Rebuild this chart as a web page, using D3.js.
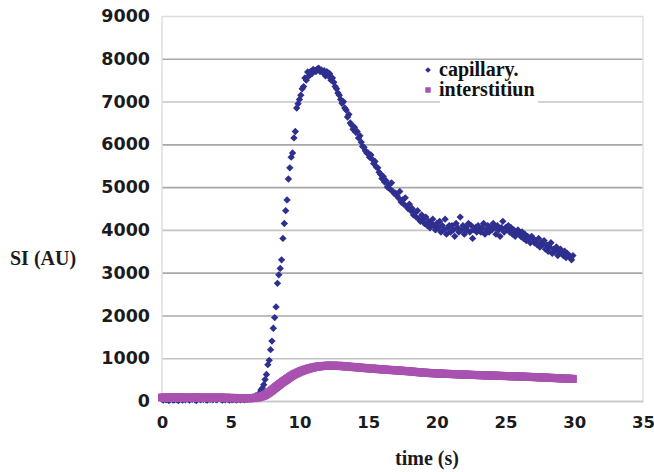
<!DOCTYPE html>
<html>
<head>
<meta charset="utf-8">
<script src="https://cdn.jsdelivr.net/npm/d3@7"></script>
<style>
  body { margin: 0; background: #fff; }
  svg { display: block; }
</style>
</head>
<body>
<div id="chart"></div>
<script>
// time sampling (s) of both series
var timeStep = 0.1;

// capillary SI (AU), one value every 0.1 s from t = 0
var capillary = [
  40, 20, 60, 30, 50, 10, 40, 70, 20, 30,
  50, 30, 10, 60, 40, 20, 50, 30, 60, 40,
  20, 50, 40, 70, 30, 10, 40, 60, 30, 50,
  40, 80, 30, 20, 60, 40, 50, 30, 70, 40,
  30, 60, 100, 40, 20, 50, 30, 60, 40, 20,
  50, 30, 40, 60, 20, 40, 70, 30, 50, 40,
  30, 60, 40, 80, 50, 60, 90, 70, 120, 100,
  150, 180, 260, 300, 380, 500, 620, 850, 950, 1200,
  1400, 1700, 1950, 2200, 2750, 2950, 3100, 3300, 3800, 4150,
  4450, 4700, 5190, 5450, 5700, 5800, 6150, 6300, 6850, 6950,
  7050, 7150, 7300, 7350, 7550, 7500, 7690, 7600, 7700, 7650,
  7750, 7720, 7700, 7760, 7780, 7700, 7740, 7680, 7720, 7600,
  7700, 7600, 7650, 7500, 7550, 7450, 7350, 7300, 7200, 7150,
  7050, 6960, 7000, 6850, 6800, 6640, 6700, 6500, 6450, 6350,
  6400, 6280, 6300, 6150, 6200, 6050, 5950, 5930, 5850, 5800,
  5800, 5700, 5750, 5650, 5550, 5600, 5470, 5450, 5350, 5300,
  5200, 5250, 5120, 5150, 5000, 5050, 4950, 5100, 4900, 4850,
  4860, 4800, 4750, 4900, 4650, 4700, 4600, 4750, 4550, 4500,
  4600, 4450, 4500, 4350, 4400, 4300, 4450, 4250, 4200, 4350,
  4250, 4150, 4300, 4100, 4200, 4050, 4150, 4250, 4100, 4000,
  4150, 4050, 4200, 3950, 4100, 4000, 4250, 3900, 4050, 4100,
  3950, 4100, 4000, 3850, 4150, 4050, 3950, 4300, 4000, 4100,
  3900, 4050, 4000, 4150, 3950, 4100, 3800, 4000, 4050, 3950,
  4100, 4000, 3950, 4050, 4150, 3900, 4000, 4100, 3950, 4050,
  4000, 4150, 4050, 3900, 4100, 4000, 3850, 4050, 4200, 3950,
  4050, 4000, 4100, 3950, 4050, 3900, 4000, 3850, 3950, 4000,
  3900, 3850, 3950, 3800, 3900, 3750, 3850, 3800, 3700, 3850,
  3800, 3700, 3750, 3650, 3800, 3600, 3700, 3650, 3750, 3550,
  3650, 3500, 3600, 3700, 3450, 3550, 3500, 3600, 3400, 3500,
  3550, 3450, 3400, 3500, 3350, 3450, 3400, 3350, 3300, 3400
];

// interstitium SI (AU), one value every 0.1 s from t = 0
var interstitium = [
  80, 85, 75, 90, 80, 70, 85, 80, 75, 90,
  85, 80, 70, 80, 90, 75, 80, 85, 70, 80,
  75, 85, 80, 70, 85, 80, 90, 75, 80, 70,
  80, 75, 85, 80, 70, 80, 75, 85, 80, 75,
  70, 80, 85, 75, 80, 70, 75, 80, 70, 75,
  70, 65, 75, 70, 60, 70, 65, 70, 60, 65,
  60, 65, 70, 60, 65, 70, 65, 70, 75, 80,
  85, 95, 105, 115, 125, 140, 160, 180, 200, 225,
  250, 275, 300, 325, 350, 375, 400, 425, 450, 470,
  490, 515, 535, 560, 580, 600, 620, 635, 650, 665,
  680, 695, 705, 720, 730, 740, 750, 760, 770, 775,
  785, 792, 798, 803, 808, 812, 815, 818, 820, 823,
  825, 830, 820, 828, 822, 830, 818, 826, 820, 824,
  815, 820, 810, 812, 805, 808, 800, 802, 795, 798,
  790, 792, 785, 786, 778, 780, 772, 775, 768, 770,
  762, 765, 758, 760, 752, 755, 748, 750, 742, 745,
  738, 740, 733, 735, 728, 730, 723, 726, 720, 722,
  715, 718, 710, 713, 706, 708, 700, 703, 697, 699,
  694, 690, 688, 684, 682, 678, 676, 672, 668, 666,
  664, 660, 662, 656, 658, 652, 654, 648, 650, 645,
  647, 642, 644, 639, 641, 636, 638, 633, 635, 630,
  632, 628, 630, 625, 627, 622, 624, 620, 622, 617,
  619, 615, 617, 612, 614, 610, 612, 607, 609, 605,
  607, 603, 605, 600, 602, 598, 600, 596, 598, 594,
  596, 592, 594, 590, 592, 587, 589, 585, 587, 583,
  585, 581, 583, 578, 580, 576, 578, 574, 576, 572,
  574, 570, 572, 567, 569, 565, 567, 562, 564, 560,
  562, 557, 559, 554, 556, 551, 553, 548, 550, 545,
  547, 542, 544, 539, 541, 536, 538, 533, 535, 530,
  532, 527, 529, 524, 526, 521, 523, 518, 520, 515
];

var xTicks = [0, 5, 10, 15, 20, 25, 30, 35];
var yTicks = [0, 1000, 2000, 3000, 4000, 5000, 6000, 7000, 8000, 9000];
var seriesNames = ["capillary.", "interstitiun"];

var W = 654, H = 472;
var margin = {top: 16, right: 11, bottom: 71, left: 162};
var width = W - margin.left - margin.right,
    height = H - margin.top - margin.bottom;

var svg = d3.select("#chart")
    .append("svg")
    .attr("width", W)
    .attr("height", H)
    .append("g")
    .attr("transform", "translate(" + margin.left + "," + margin.top + ")");

var x = d3.scaleLinear().domain([0, 35]).range([0, width]);
var y = d3.scaleLinear().domain([0, 9000]).range([height, 0]);

var color = d3.scaleOrdinal().domain(seriesNames).range(["#2e2f8f", "#a852b0"]);

// horizontal gridlines (jpeg made some look darker than others)
var darker = [2000, 3000, 5000, 6000, 8000];
svg.append("g")
    .attr("class", "grid")
    .call(d3.axisLeft(y).tickValues(yTicks).tickSize(-width).tickFormat(""))
    .call(function(g) { g.select(".domain").remove(); })
    .selectAll("line")
    .attr("stroke", function(d) { return d == 9000 ? "#dcdcdc" : (darker.indexOf(d) >= 0 ? "#a8a8a8" : "#c4c4c4"); })
    .attr("stroke-width", 1.6);

// plot frame, left and right sides
svg.append("line").attr("x1", 0).attr("x2", 0).attr("y1", 0).attr("y2", height)
    .attr("stroke", "#dedede").attr("stroke-width", 1.5);
svg.append("line").attr("x1", width).attr("x2", width).attr("y1", 0).attr("y2", height)
    .attr("stroke", "#e2e2e2").attr("stroke-width", 1.5);

// tick labels
var yAxis = svg.append("g")
    .call(d3.axisLeft(y).tickValues(yTicks).tickFormat(d3.format("d")).tickSize(0).tickPadding(12));
yAxis.select(".domain").remove();
yAxis.selectAll("text")
    .style("font-family", "'DejaVu Sans', Verdana, sans-serif")
    .style("font-weight", "bold")
    .style("font-size", "17.5px")
    .attr("fill", "#1b1b1b");

var xAxis = svg.append("g")
    .attr("transform", "translate(0," + height + ")")
    .call(d3.axisBottom(x).tickValues(xTicks).tickFormat(d3.format("d")).tickSize(0).tickPadding(15));
xAxis.select(".domain").attr("stroke", "#c8c8c8").attr("stroke-width", 1.5);
xAxis.selectAll("text")
    .style("font-family", "'DejaVu Sans', Verdana, sans-serif")
    .style("font-weight", "bold")
    .style("font-size", "16.5px")
    .attr("fill", "#1b1b1b");

// capillary diamonds
var diamond = d3.symbol().type(d3.symbolSquare).size(27);
svg.append("g")
    .selectAll("path")
    .data(capillary)
    .enter()
    .append("path")
    .attr("d", diamond)
    .attr("transform", function(d, i) { return "translate(" + x(i * timeStep) + "," + y(d) + ") rotate(45)"; })
    .style("fill", color(seriesNames[0]));

// interstitium squares
svg.append("g")
    .selectAll("rect")
    .data(interstitium)
    .enter()
    .append("rect")
    .attr("x", function(d, i) { return x(i * timeStep) - 4; })
    .attr("y", function(d) { return y(d) - 4; })
    .attr("width", 8)
    .attr("height", 8)
    .style("fill", color(seriesNames[1]));

// axis titles
svg.append("text")
    .attr("x", 10 - margin.left)
    .attr("y", 265 - margin.top)
    .style("font-family", "'Liberation Serif', 'Times New Roman', serif")
    .style("font-weight", "bold")
    .style("font-size", "20px")
    .attr("fill", "#1b1b1b")
    .text("SI (AU)");

svg.append("text")
    .attr("x", 427 - margin.left)
    .attr("y", 465 - margin.top)
    .style("text-anchor", "middle")
    .style("font-family", "'Liberation Serif', 'Times New Roman', serif")
    .style("font-weight", "bold")
    .style("font-size", "20px")
    .attr("fill", "#1b1b1b")
    .text("time (s)");

// legend
svg.append("rect")
    .attr("x", 440 - margin.left)
    .attr("y", 63 - margin.top)
    .attr("width", 98)
    .attr("height", 42)
    .style("fill", "white");

var legend = svg.selectAll(".legend")
    .data(seriesNames)
    .enter().append("g")
    .attr("class", "legend")
    .attr("transform", function(d, i) { return "translate(" + (428 - margin.left) + "," + (70 + i * 20 - margin.top) + ")"; });

legend.append("path")
    .attr("d", function(d, i) { return d3.symbol().type(d3.symbolSquare).size(i == 0 ? 16 : 30)(); })
    .attr("transform", function(d, i) { return i == 0 ? "rotate(45)" : ""; })
    .style("fill", color);

legend.append("text")
    .attr("x", 11)
    .attr("y", 0)
    .attr("dy", ".32em")
    .style("font-family", "'Liberation Serif', 'Times New Roman', serif")
    .style("font-weight", "bold")
    .style("font-size", "20px")
    .attr("fill", "#111")
    .text(function(d) { return d; });
</script>
</body>
</html>
